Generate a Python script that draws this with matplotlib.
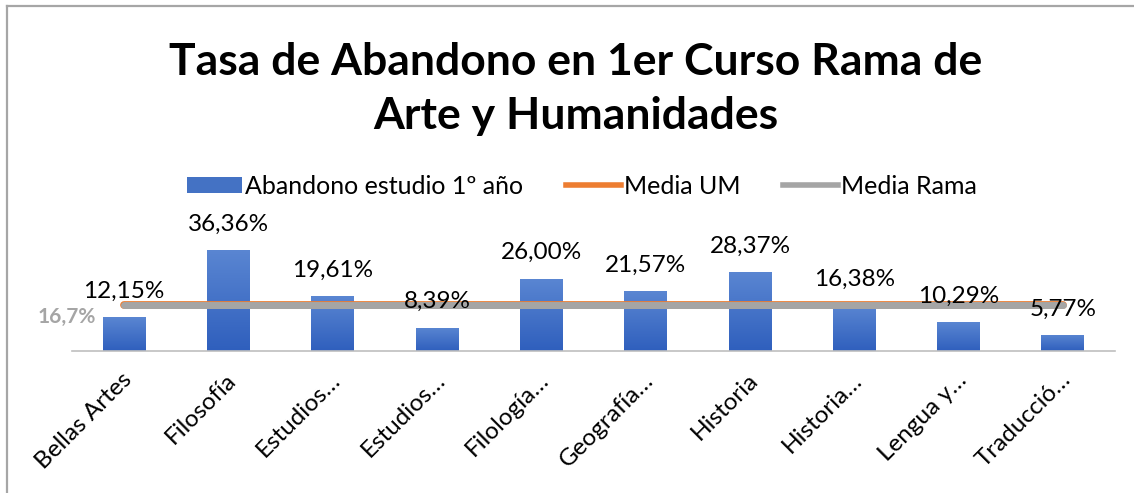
import matplotlib
matplotlib.use("Agg")
import matplotlib.pyplot as plt
import numpy as np
from matplotlib.lines import Line2D
from matplotlib.patches import Patch
from matplotlib.colors import LinearSegmentedColormap
import matplotlib.transforms as mtransforms

categories = ["Bellas Artes", "Filosofía", "Estudios…", "Estudios…", "Filología…",
              "Geografía…", "Historia", "Historia…", "Lengua y…", "Traducció…"]
abandono = [12.15, 36.36, 19.61, 8.39, 26.00, 21.57, 28.37, 16.38, 10.29, 5.77]
media_um_value = 16.7
media_rama_value = 16.7
title = "Tasa de Abandono en 1er Curso Rama de\nArte y Humanidades"

plt.rcParams['font.family'] = ['Lato', 'DejaVu Sans']

W, H = 1134, 493
fig = plt.figure(figsize=(W / 100, H / 100), dpi=100)
fig.patch.set_facecolor("white")

left, right, base = 72, 1115, 351
ymax = 40
pxu = 2.78
ax = fig.add_axes([left / W, (H - base) / H, (right - left) / W, ymax * pxu / H])

x = np.arange(len(categories))
bars = ax.bar(x, abandono, width=0.41, color="#4472C4", zorder=2)

# gradient fill
grad = np.linspace(0, 1, 256).reshape(-1, 1)
cmap = LinearSegmentedColormap.from_list("g", ["#2F5FBD", "#5A86D2"])
for b in bars:
    bx, by = b.get_x(), b.get_y()
    bw, bh = b.get_width(), b.get_height()
    im = ax.imshow(grad, extent=[bx, bx + bw, by, by + bh], origin="lower",
                   cmap=cmap, aspect="auto", zorder=2.1)
    im.set_clip_path(b)
ax.set_xlim(-0.5, len(categories) - 0.5)
ax.set_ylim(0, ymax)

um_line, = ax.plot([x[0], x[-1]], [media_um_value] * 2, color="#ED7D31", lw=5.6,
                   solid_capstyle="round", zorder=3)
rama_line, = ax.plot([x[0], x[-1]], [media_rama_value] * 2, color="#A5A5A5", lw=5,
                     solid_capstyle="round", zorder=4)

for xi, v in zip(x, abandono):
    ax.annotate(f"{v:.2f}%".replace(".", ","), (xi, v), xytext=(0, 26),
                textcoords="offset pixels", ha="center", va="center",
                fontsize=17.5, color="black", zorder=5)

ax.annotate(f"{media_rama_value:.1f}%".replace(".", ","), (x[0], media_rama_value),
            xytext=(-57, -12), textcoords="offset pixels", ha="center", va="center",
            fontsize=15, fontweight="bold", color="#A5A5A5", zorder=5)

for s in ["top", "right", "left"]:
    ax.spines[s].set_visible(False)
ax.spines["bottom"].set_color("#BFBFBF")
ax.spines["bottom"].set_linewidth(1.2)
ax.set_yticks([])
ax.set_xticks(x)
ax.set_xticklabels(categories, rotation=45, ha="right", va="top",
                   rotation_mode="anchor", fontsize=17.5)
ax.tick_params(axis="x", length=0, pad=13)
offset = mtransforms.ScaledTranslation(-3 / 100, 0, fig.dpi_scale_trans)
for lab in ax.get_xticklabels():
    lab.set_transform(lab.get_transform() + offset)
ax.set_facecolor("none")

fig.text(576 / W, 1 - 89 / H, title, ha="center", va="center", fontsize=32,
         fontweight="bold", linespacing=1.42)

handles = [Patch(facecolor="#4472C4", edgecolor="none"),
           Line2D([], [], color="#ED7D31", lw=4),
           Line2D([], [], color="#A5A5A5", lw=4)]
labels = ["Abandono estudio 1º año", "Media UM", "Media Rama"]
fig.legend(handles, labels, loc="center", bbox_to_anchor=(582 / W, 1 - 186 / H),
           ncol=3, frameon=False, fontsize=18, handlelength=2.2, handleheight=0.6,
           handletextpad=0.12, columnspacing=1.7, borderpad=0)

# chart frame
fig.add_artist(Line2D([7 / W, 7 / W], [0, 1 - 6 / H], color="#A6A6A6", lw=1.6,
                      transform=fig.transFigure))
fig.add_artist(Line2D([7 / W, 1], [1 - 6 / H, 1 - 6 / H], color="#A6A6A6", lw=1.6,
                      transform=fig.transFigure))

fig.savefig("out.png", dpi=100)
